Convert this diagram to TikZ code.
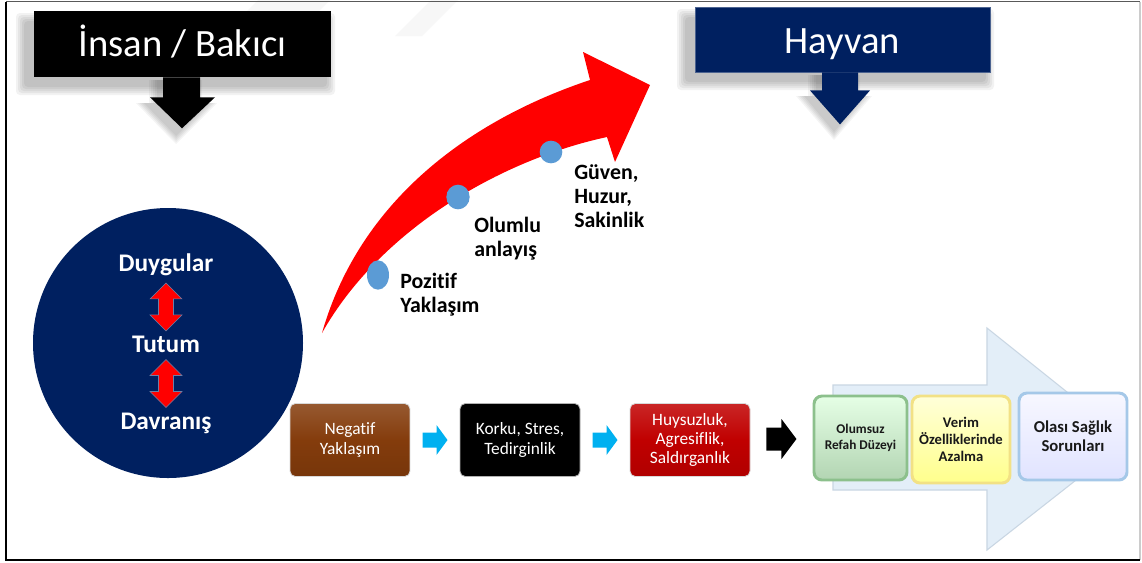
\documentclass[tikz,border=0pt]{standalone}
\usepackage{fontspec}
\setmainfont{Carlito}[Ligatures={NoCommon}]
\usetikzlibrary{calc,shapes.geometric}
\definecolor{navy}{HTML}{002060}
\definecolor{navyb}{HTML}{0B2A6B}
\definecolor{brownbox}{HTML}{843C0C}
\definecolor{redbox}{HTML}{C00000}
\definecolor{cyanarrow}{HTML}{00B0F0}
\definecolor{dotblue}{HTML}{5B9BD5}
\definecolor{bigarrow}{HTML}{E3EEF8}
\definecolor{bigarrowb}{HTML}{C9D6E3}
\tikzset{
  titlebox/.style={rectangle, text=white, font=\fontsize{29}{34}\selectfont, inner sep=0pt, text height=24pt, text depth=5.3pt},
  rowbox/.style={rectangle, rounded corners=4pt, text=white, align=center,
    font=\fontsize{13}{14.5}\selectfont, minimum width=90pt, minimum height=54.75pt, inner sep=2pt, draw=white!70!gray, line width=0.6pt},
  endbox/.style={rectangle, rounded corners=6pt, align=center, text=black!90, line width=2.2pt, inner sep=2pt},
  circtext/.style={text=white, font=\bfseries\fontsize{19}{22}\selectfont},
  arclabel/.style={anchor=west, align=left, font=\bfseries\fontsize{16.4}{18}\selectfont, inner sep=0pt},
  bluedot/.style={ellipse, fill=dotblue, inner sep=0pt},
  cyanarr/.pic={\fill[cyanarrow] (-12.5,-7.5) -- (1.5,-7.5) -- (1.5,-15) -- (12.5,0) -- (1.5,15) -- (1.5,7.5) -- (-12.5,7.5) -- cycle;},
  blackarr/.pic={\fill[black] (-15,-11.5) -- (0,-11.5) -- (0,-20) -- (15,0) -- (0,20) -- (0,11.5) -- (-15,11.5) -- cycle;},
  vdarr/.pic={\filldraw[fill=red, draw=navyb!60, line width=0.4pt] (0,-24) -- (16,-8) -- (7.5,-8) -- (7.5,8) -- (16,8) -- (0,24) -- (-16,8) -- (-7.5,8) -- (-7.5,-8) -- (-16,-8) -- cycle;},
}
\begin{document}
\begin{tikzpicture}[x=0.75pt,y=-0.75pt]
\useasboundingbox (0,0) rectangle (1142,562);
\fill[white] (0,0) rectangle (1142,562);
% faint watermark stripes
\fill[gray!6] (222,36) -- (258,0) -- (330,0) -- (294,36) -- cycle;
\fill[gray!6] (395,36) -- (431,0) -- (458,0) -- (422,36) -- cycle;

% ---- shadows of title boxes and their arrows
\foreach \k in {0,2,4,6,8}{
  \fill[black, opacity=0.05, rounded corners=3pt] (34-10-\k,11+10-\k) rectangle (331-4+\k,77+10+\k);
  \fill[black, opacity=0.05, rounded corners=3pt] (695-10-\k,7+10-\k) rectangle (990-4+\k,72+10+\k);
  \fill[black, opacity=0.045] (163-6-\k,80) -- (200-6+\k,80) -- (200-6+\k,97+6) -- (215-6+\k,97+6) -- (182-6,128+8+\k) -- (150-6-\k,97+6) -- (163-6-\k,97+6) -- cycle;
  \fill[black, opacity=0.045] (822-6-\k,75) -- (858-6+\k,75) -- (858-6+\k,90+6) -- (870-6+\k,90+6) -- (840-6,124+8+\k) -- (810-6-\k,90+6) -- (822-6-\k,90+6) -- cycle;
}

% ---- title boxes
\node[titlebox, fill=black, minimum width=222.75pt, minimum height=49.5pt] (insan) at (182.5,44) {İnsan / Bakıcı};
\node[titlebox, fill=navy, draw=navy!70!white, line width=0.6pt, minimum width=221.25pt, minimum height=48.75pt, text depth=3.3pt] (hayvan) at (842.5,39.5) {Hayvan};
\fill[black] ($(insan.south)+(-19.5,0)$) -- ++(37,0) -- ++(0,20) -- ++(15,0) -- ($(insan.south)+(-0.5,51)$) -- ($(insan.south)+(-32.5,20)$) -- ++(13,0) -- cycle;
\fill[navy] ($(hayvan.south)+(-20.5,0)$) -- ++(36,0) -- ++(0,18) -- ++(12,0) -- ($(hayvan.south)+(-2.5,52)$) -- ($(hayvan.south)+(-32.5,18)$) -- ++(12,0) -- cycle;

% ---- circle
\node[circle, fill=navy, minimum size=202.5pt, inner sep=0pt] (circ) at (168,343) {};
\node[circtext] (duy) at (166,265) {Duygular};
\node[circtext] (tut) at (166,344) {Tutum};
\node[circtext] (dav) at (166,423) {Davranış};
\pic at ($(duy)!0.53!(tut)$) {vdarr};
\pic at ($(tut)!0.5!(dav)$) {vdarr};

% ---- big red curved arrow
\coordinate (tail) at (322,333);
\coordinate (tip) at (650,85);
\fill[red] (tail) .. controls (360,200) and (470,120) .. (590,80) -- (583,52) -- (tip) -- (615,162) -- (607,137) .. controls (500,160) and (380,230) .. (tail) -- cycle;
\node[bluedot, minimum width=16.5pt, minimum height=22pt] (d1) at (378,275) {};
\node[bluedot, minimum width=17.5pt, minimum height=18.5pt] (d2) at (458,197) {};
\node[bluedot, minimum width=17pt, minimum height=17pt] (d3) at (551,152) {};
\node[arclabel] (l1) at (400,295) {Pozitif\\Yaklaşım};
\node[arclabel] (l2) at (474,238.5) {Olumlu\\anlayış};
\node[arclabel] (l3) at (574,196.5) {Güven,\\Huzur,\\Sakinlik};

% ---- bottom row
\node[rowbox, top color=brownbox!85!white, bottom color=brownbox!90!black, middle color=brownbox] (neg) at (350,440) {Negatif\\Yaklaşım};
\node[rowbox, fill=black, draw=gray!60] (kork) at (520,440) {Korku, Stres,\\Tedirginlik};
\node[rowbox, top color=redbox!85!white, bottom color=redbox!92!black, middle color=redbox] (huy) at (690,440) {Huysuzluk,\\Agresiflik,\\Saldırganlık};
\pic at ($(neg.east)!0.5!(kork.west)$) {cyanarr};
\pic at ($(kork.east)!0.5!(huy.west)$) {cyanarr};

% ---- big translucent arrow
\filldraw[fill=bigarrow, draw=bigarrowb, line width=0.8pt] (833,385) -- (987,385) -- (987,328) -- (1127,440) -- (987,550) -- (987,490) -- (833,490) -- cycle;

\node[endbox, draw=green!45!black!45!white, top color=green!10!white, bottom color=green!45!black!30!white,
  minimum width=69.75pt, minimum height=63pt, font=\bfseries\fontsize{10}{12}\selectfont] (g) at (860.5,438) {Olumsuz\\Refah Düzeyi};
\node[endbox, draw=yellow!60!brown!55!white, top color=yellow!15!white, bottom color=yellow!45!white,
  minimum width=73.5pt, minimum height=65.25pt, font=\bfseries\fontsize{11}{13}\selectfont] (y) at (961,439.5) {Verim\\Özelliklerinde\\Azalma};
\node[endbox, draw=dotblue!55!white, top color=blue!3!white, bottom color=cyan!10!blue!12!white,
  minimum width=81pt, minimum height=65.25pt, font=\bfseries\fontsize{12.5}{14.5}\selectfont] (b) at (1073,436.5) {Olası Sağlık\\Sorunları};
\pic at ($(huy.east)!0.5!(g.west)$) {blackarr};

% ---- frame
\draw[gray!70!black, line width=1.2pt] (6,1.5) -- (1140,1.5);
\draw[gray!40, line width=1.2pt] (1140,1.5) -- (1140,560);
\draw[black, line width=2pt] (6,1.5) -- (6,560) -- (1140,560);
\end{tikzpicture}
\end{document}
